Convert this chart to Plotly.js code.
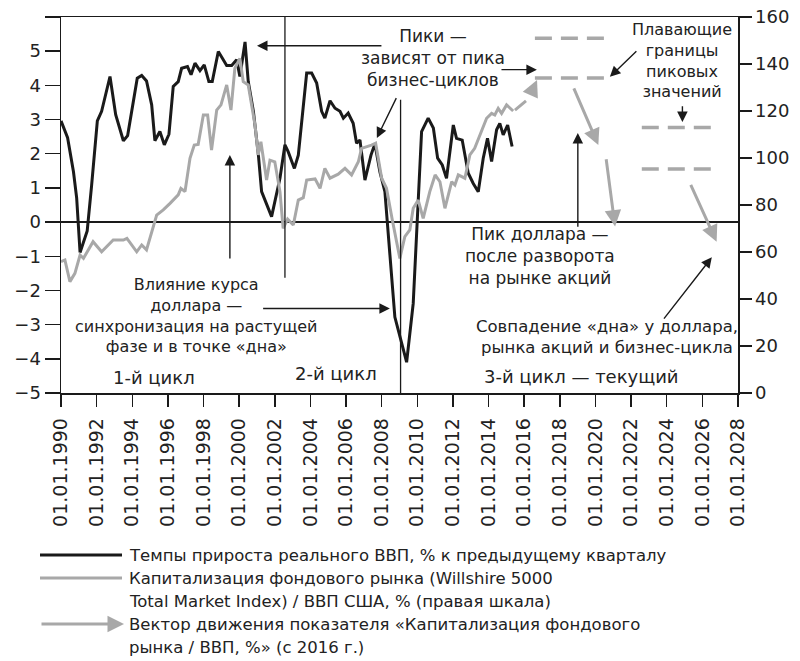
<!DOCTYPE html>
<html>
<head>
<meta charset="utf-8">
<script src="https://cdn.plot.ly/plotly-3.0.1.min.js"></script>
<style>html,body{margin:0;padding:0;background:#fff}#chart{width:800px;height:661px}</style>
</head>
<body>
<div id="chart"></div>
<script>
// ---- GDP growth (left axis), decimal years ----
var gdpYears = [1990.0,1990.37,1990.7,1990.88,1991.07,1991.47,1991.72,1992.04,1992.28,1992.75,1993.07,1993.5,1993.74,1994.28,1994.53,1994.8,1995.09,1995.27,1995.55,1995.8,1996.06,1996.3,1996.58,1996.77,1997.1,1997.3,1997.52,1997.8,1998.04,1998.3,1998.49,1998.83,1999.05,1999.3,1999.58,1999.86,2000.04,2000.33,2000.51,2000.8,2001.08,2001.26,2001.82,2002.29,2002.57,2002.75,2003.1,2003.32,2003.79,2004.07,2004.35,2004.63,2004.81,2005.1,2005.38,2005.66,2005.85,2006.12,2006.4,2006.59,2006.78,2007.06,2007.4,2007.62,2007.9,2008.18,2008.74,2009.4,2009.77,2010.24,2010.61,2010.9,2011.14,2011.4,2011.64,2012.02,2012.2,2012.52,2012.86,2013.14,2013.42,2013.7,2013.94,2014.17,2014.45,2014.63,2014.82,2015.07,2015.32];
var gdpValues = [2.96,2.47,1.47,0.7,-0.89,-0.26,1.08,2.96,3.24,4.26,3.14,2.38,2.53,4.21,4.29,4.13,3.43,2.38,2.65,2.26,2.57,3.97,4.11,4.5,4.55,4.31,4.65,4.43,4.6,4.11,4.11,4.99,4.8,4.58,4.58,4.75,4.26,5.27,4.11,3.24,1.96,0.89,0.16,1.28,2.26,2.06,1.57,1.96,4.36,4.36,4.07,3.24,3.04,3.55,3.33,3.24,3.04,3.19,2.89,2.31,2.4,1.23,1.96,2.29,1.47,0.89,-2.78,-4.1,-2.38,2.65,3.04,2.75,1.87,1.67,1.28,2.84,2.45,2.4,1.43,1.13,0.89,1.87,2.45,1.77,2.7,2.89,2.55,2.84,2.21];

// ---- Market cap / GDP (right axis) ----
var capYears = [1990.0,1990.22,1990.5,1990.78,1991.07,1991.26,1991.8,1992.28,1992.93,1993.5,1993.7,1994.25,1994.53,1994.8,1995.37,1995.74,1996.12,1996.58,1996.73,1996.96,1997.24,1997.48,1997.7,1997.99,1998.23,1998.45,1998.74,1998.98,1999.3,1999.54,1999.76,2000.04,2000.23,2000.51,2000.89,2001.07,2001.22,2001.54,2001.73,2002.0,2002.29,2002.47,2002.72,2003.04,2003.32,2003.6,2003.79,2004.26,2004.54,2004.81,2005.1,2005.56,2005.94,2006.31,2006.69,2006.87,2007.43,2007.66,2008.0,2008.27,2008.6,2009.02,2009.3,2009.58,2009.77,2010.05,2010.33,2010.7,2011.0,2011.27,2011.55,2011.93,2012.11,2012.3,2012.67,2012.95,2013.22,2013.5,2013.89,2014.17,2014.35,2014.54,2014.73,2015.01,2015.38];
var capValues = [55.9,56.6,47.4,50.9,58.7,57.3,64.4,60.1,65.1,65.1,65.8,60.1,63,60.9,75.7,77.9,80.7,84.3,87.1,85.7,99.9,105.5,105.8,118.3,118.3,103.4,120.4,122.6,131.1,120.4,138.2,142.4,132.5,131.1,114,101.3,106.9,90.6,99.1,98.4,85.7,70.1,74,71.5,82.1,83.1,90.6,91.1,87.1,95.6,91.4,93.1,95.6,92.8,98.4,104.1,105.5,106.3,91.4,87.1,73.5,57.3,66.5,69.4,78.6,82.1,74.3,85.7,92.8,89.9,78.6,89.9,88.5,92.8,91.4,101.3,104.1,109.8,116.9,119,118.3,121.1,119,122.6,120];

// ---- Floating peak bounds (right axis) ----
var boundLevels = [151, 134, 113, 95.3];
var boundStart = [2016.6, 2016.6, 2022.6, 2022.6];
var boundEnd = [2020.5, 2020.5, 2026.5, 2026.5];

// ---- Movement vectors since 2016 (right axis): tail -> head ----
var vecX0 = [2016.32, 2018.75, 2020.59, 2025.31];
var vecY0 = [126.4, 130.3, 100.1, 89.2];
var vecX1 = [2016.72, 2020.16, 2021.1, 2026.8];
var vecY1 = [133.2, 105.5, 70.8, 64.4];
// dashed lead-in piece of the first vector
var leadX = [2015.48, 2016.1];
var leadY = [120.4, 124.3];

// ---- Axis ticks ----
var xTickYears = [1990,1992,1994,1996,1998,2000,2002,2004,2006,2008,2010,2012,2014,2016,2018,2020,2022,2024,2026,2028];
var xTickText = xTickYears.map(function(y){return '01.01.' + y;});
var yTickVals = [-5,-4,-3,-2,-1,0,1,2,3,4,5,6];
var yTickText = ['\u22125','\u22124','\u22123','\u22122','\u22121','0','1','2','3','4','5',''];
var y2TickVals = [0,20,40,60,80,100,120,140,160];

var FONT = 'DejaVu Sans, Verdana, sans-serif';
var GRAY = '#a8a8a8';
var BLACK = '#1a1a1a';

var traces = [
  {x: gdpYears, y: gdpValues, type: 'scatter', mode: 'lines', name: 'gdp',
   line: {color: BLACK, width: 3}, showlegend: false, hoverinfo: 'skip'},
  {x: capYears, y: capValues, type: 'scatter', mode: 'lines', name: 'cap', yaxis: 'y2',
   line: {color: GRAY, width: 3}, showlegend: false, hoverinfo: 'skip'},
  {x: leadX, y: leadY, type: 'scatter', mode: 'lines', yaxis: 'y2',
   line: {color: GRAY, width: 3}, showlegend: false, hoverinfo: 'skip'}
];
for (var i = 0; i < boundLevels.length; i++) {
  traces.push({x: [boundStart[i], boundEnd[i]], y: [boundLevels[i], boundLevels[i]], type: 'scatter',
    mode: 'lines', yaxis: 'y2', line: {color: GRAY, width: 3.5, dash: '17px,9px'},
    showlegend: false, hoverinfo: 'skip'});
}

var annotations = [];
// gray vectors
for (var j = 0; j < vecX0.length; j++) {
  annotations.push({x: vecX1[j], y: vecY1[j], ax: vecX0[j], ay: vecY0[j], xref: 'x', yref: 'y2',
    axref: 'x', ayref: 'y2', text: '', showarrow: true, arrowhead: 2, arrowsize: 1.1,
    arrowwidth: 3, arrowcolor: GRAY, standoff: 0});
}
// black pointer arrows (left-axis coordinates): [headX, headY, tailX, tailY]
var pointers = [
  [2001.0, 5.16, 2008.07, 5.16],
  [2007.73, 2.46, 2008.86, 3.67],
  [2016.71, 4.46, 2014.64, 4.46],
  [2020.81, 4.25, 2022.38, 5.04],
  [2024.88, 2.93, 2024.88, 3.43],
  [2019.01, 2.61, 2019.01, -0.18],
  [1999.48, 1.96, 1999.48, -1.11],
  [2008.46, -2.53, 2001.26, -2.53],
  [2026.53, -1.03, 2023.78, -2.87]
];
pointers.forEach(function(p){
  annotations.push({x: p[0], y: p[1], ax: p[2], ay: p[3], xref: 'x', yref: 'y', axref: 'x', ayref: 'y',
    text: '', showarrow: true, arrowhead: 2, arrowsize: 1.5, arrowwidth: 1.4, arrowcolor: BLACK, standoff: 0});
});

function txt(t, x, y, size) {
  annotations.push({x: x, y: y, xref: 'x', yref: 'y', text: t, showarrow: false,
    font: {family: FONT, size: size || 17, color: '#222'}, align: 'center', xanchor: 'center', yanchor: 'middle'});
}
txt('Пики —<br>зависят от пика<br>бизнес-циклов', 2010.88, 4.81);
txt('Плавающие<br>границы<br>пиковых<br>значений', 2024.88, 4.72, 16);
txt('Пик доллара —<br>после разворота<br>на рынке акций', 2016.88, -1.0);
txt('Совпадение «дна» у доллара,<br>рынка акций и бизнес-цикла', 2020.67, -3.37, 16.5);
txt('Влияние курса<br>доллара —<br>синхронизация на растущей<br>фазе и в точке «дна»', 1997.56, -2.74, 16);
txt('1-й цикл', 1995.22, -4.54, 18);
txt('2-й цикл', 2005.46, -4.44, 18);
txt('3-й цикл — текущий', 2019.24, -4.52, 18);

// manual legend below the chart (pixel helpers)
var ML = 61, MR = 62, MT = 17, MB = 268, W = 800, H = 661;
function px(xp){return (xp - ML) / (W - ML - MR);}
function py(yp){return (H - MB - yp) / (H - MT - MB);}
var legendRows = [
  ['Темпы прироста реального ВВП, % к предыдущему кварталу', 555],
  ['Капитализация фондового рынка (Willshire 5000', 578],
  ['Total Market Index) / ВВП США, % (правая шкала)', 601],
  ['Вектор движения показателя «Капитализация фондового', 624],
  ['рынка / ВВП, %» (с 2016 г.)', 647]
];
legendRows.forEach(function(r){
  annotations.push({x: px(127), y: py(r[1]), xref: 'paper', yref: 'paper', text: r[0], showarrow: false,
    xanchor: 'left', yanchor: 'middle', align: 'left', font: {family: FONT, size: 16.5, color: '#222'}});
});
annotations.push({x: px(124), y: py(624), xref: 'paper', yref: 'paper', ax: -84, ay: 0, text: '',
  showarrow: true, arrowhead: 2, arrowsize: 1.1, arrowwidth: 3, arrowcolor: GRAY, standoff: 0});

var shapes = [
  {type: 'line', xref: 'x', yref: 'y', x0: 2002.57, x1: 2002.57, y0: 6, y1: -1.63, line: {color: BLACK, width: 1.3}},
  {type: 'line', xref: 'x', yref: 'y', x0: 2009.06, x1: 2009.06, y0: 3.58, y1: -5, line: {color: BLACK, width: 1.3}},
  {type: 'line', xref: 'paper', yref: 'paper', x0: px(40), x1: px(122), y0: py(555), y1: py(555), line: {color: BLACK, width: 3}},
  {type: 'line', xref: 'paper', yref: 'paper', x0: px(40), x1: px(122), y0: py(578), y1: py(578), line: {color: GRAY, width: 3}}
];

var layout = {
  width: W, height: H,
  margin: {l: ML, r: MR, t: MT, b: MB, pad: 0},
  paper_bgcolor: '#fff', plot_bgcolor: '#fff',
  showlegend: false,
  font: {family: FONT, size: 18, color: '#222'},
  xaxis: {range: [1990, 2028], tickmode: 'array', tickvals: xTickYears, ticktext: xTickText,
    tickangle: -90, ticks: 'outside', ticklen: 12, tickwidth: 1.5, tickcolor: BLACK, ticklabelstandoff: 4,
    showline: true, linecolor: BLACK, linewidth: 1.5, mirror: true, showgrid: false, zeroline: false,
    tickfont: {family: FONT, size: 19, color: '#222'}},
  yaxis: {range: [-5, 6], tickmode: 'array', tickvals: yTickVals, ticktext: yTickText,
    ticks: 'outside', ticklen: 15, tickwidth: 1.5, tickcolor: BLACK, showline: true, linecolor: BLACK,
    linewidth: 1.5, showgrid: false, zeroline: true, zerolinecolor: BLACK, zerolinewidth: 1.5,
    tickfont: {family: FONT, size: 18, color: '#222'}},
  yaxis2: {range: [0, 160], overlaying: 'y', side: 'right', tickmode: 'array', tickvals: y2TickVals,
    ticks: 'outside', ticklen: 12, tickwidth: 1.5, tickcolor: BLACK, showline: true, linecolor: BLACK,
    linewidth: 1.5, showgrid: false, zeroline: false, tickfont: {family: FONT, size: 18, color: '#222'}},
  annotations: annotations,
  shapes: shapes
};

Plotly.newPlot('chart', traces, layout, {staticPlot: true, displayModeBar: false});
</script>
</body>
</html>
